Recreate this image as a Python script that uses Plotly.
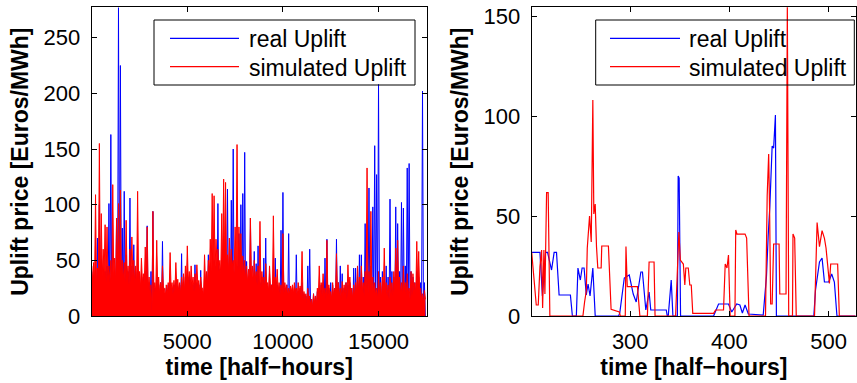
import numpy as np
import plotly.graph_objects as go

# ---------------- left panel: whole year, per 100 half-hour block (peak, trough) ----------------
bin_width = 100
red_hi = [45, 48, 109, 43, 155, 92, 60, 82, 80, 45,
          50, 118, 52, 88, 101, 113, 50, 48, 86, 45,
          60, 71, 50, 45, 112, 40, 52, 38, 62, 80,
          35, 28, 94, 30, 68, 35, 30, 45, 25, 28,
          30, 57, 30, 32, 48, 33, 30, 35, 38, 45,
          63, 40, 45, 35, 38, 46, 32, 35, 25, 55,
          40, 50, 69, 110, 108, 69, 60, 50, 92, 123,
          120, 55, 70, 60, 50, 80, 154, 80, 74, 54,
          50, 45, 42, 88, 45, 50, 40, 45, 85, 40,
          35, 47, 30, 45, 28, 90, 35, 42, 30, 28,
          74, 30, 28, 25, 27, 28, 30, 25, 30, 27,
          58, 22, 20, 25, 18, 15, 20, 18, 25, 45,
          30, 38, 25, 68, 28, 22, 30, 25, 56, 30,
          25, 31, 28, 30, 46, 35, 25, 28, 30, 45,
          35, 45, 30, 40, 133, 40, 94, 35, 30, 25,
          40, 30, 35, 61, 30, 28, 35, 30, 40, 61,
          68, 35, 30, 45, 30, 38, 25, 40, 38, 30,
          67, 58, 25, 20, 23]
red_lo = [30, 32, 28, 25, 30, 35, 38, 30, 35, 30,
          32, 35, 30, 38, 30, 35, 32, 30, 35, 28,
          30, 35, 28, 30, 32, 25, 30, 28, 30, 25,
          22, 3, 20, 22, 25, 20, 22, 25, 18, 20,
          22, 25, 20, 22, 25, 22, 20, 25, 22, 28,
          30, 25, 28, 22, 25, 28, 20, 25, 18, 30,
          28, 35, 40, 45, 42, 48, 40, 38, 45, 50,
          45, 40, 42, 45, 38, 45, 40, 42, 38, 35,
          32, 30, 28, 35, 30, 32, 28, 30, 25, 28,
          25, 28, 22, 25, 20, 28, 25, 22, 20, 22,
          20, 22, 18, 20, 22, 20, 22, 18, 20, 18,
          15, 15, 12, 15, 10, 8, 12, 10, 15, 18,
          18, 20, 15, 18, 20, 15, 18, 20, 22, 18,
          15, 18, 20, 15, 22, 20, 15, 18, 20, 22,
          20, 22, 18, 25, 20, 25, 22, 20, 18, 15,
          18, 15, 20, 22, 18, 15, 20, 18, 22, 25,
          22, 20, 18, 22, 18, 20, 15, 18, 22, 20,
          25, 22, 15, 12, 15]
blue_hi = [40, 35, 32, 70, 100, 30, 35, 40, 45, 101,
           163, 40, 35, 88, 277, 225, 79, 112, 55, 40,
           106, 45, 64, 40, 35, 38, 30, 35, 40, 81,
           30, 40, 94, 25, 30, 28, 30, 67, 20, 25,
           28, 30, 25, 28, 30, 25, 28, 56, 30, 35,
           30, 35, 30, 28, 46, 30, 28, 41, 22, 35,
           38, 55, 45, 40, 50, 45, 101, 40, 45, 50,
           45, 114, 40, 104, 150, 40, 45, 74, 100, 110,
           147, 49, 35, 88, 35, 58, 47, 63, 30, 35,
           52, 70, 25, 38, 28, 30, 52, 28, 25, 77,
           111, 25, 28, 74, 22, 25, 20, 55, 22, 25,
           30, 20, 18, 45, 60, 15, 20, 18, 22, 25,
           28, 30, 52, 69, 25, 30, 28, 25, 69, 30,
           45, 38, 25, 30, 28, 30, 25, 43, 43, 35,
           55, 55, 35, 83, 40, 115, 45, 98, 153, 127,
           208, 35, 40, 30, 45, 35, 105, 40, 35, 98,
           83, 40, 102, 97, 45, 133, 137, 40, 35, 30,
           40, 35, 30, 202, 30]
blue_lo = [2, 6, 0, 0, 0, 3, 1, 8, 4, 0,
           5, 2, 7, 1, 0, 3, 6, 2, 4, 9,
           1, 3, 5, 0, 2, 6, 1, 4, 3, 0,
           2, 0, 4, 1, 6, 3, 0, 5, 2, 1,
           4, 0, 3, 6, 1, 2, 5, 0, 3, 4,
           1, 6, 2, 0, 4, 3, 5, 1, 0, 2,
           4, 1, 6, 3, 0, 5, 2, 4, 1, 3,
           0, 6, 2, 5, 1, 3, 4, 0, 2, 6,
           1, 3, 5, 0, 2, 4, 1, 6, 3, 0,
           2, 5, 1, 3, 0, 4, 2, 1, 5, 0,
           3, 1, 4, 0, 2, 5, 1, 3, 0, 4,
           2, 0, 3, 1, 5, 2, 0, 4, 1, 3,
           0, 2, 5, 1, 3, 0, 4, 2, 1, 5,
           3, 0, 2, 4, 1, 3, 0, 5, 2, 1,
           4, 0, 3, 1, 2, 5, 0, 3, 1, 4,
           2, 0, 5, 1, 3, 2, 4, 0, 1, 3,
           5, 2, 0, 4, 1, 3, 0, 2, 5, 1,
           3, 0, 4, 2, 0]

# ---------------- right panel: zoom on the first half-hours ----------------
real_x = [200.7, 209, 211.5, 214.7, 216.7, 220.7, 223.3, 225.7, 228.3, 239.7, 241.7, 245.7,
          247.3, 249.7, 251.5, 253.5, 255.7, 257.5, 259.5, 262.3, 264.7, 288.3, 289.5, 294,
          299, 303, 306, 310.7, 312.3, 315.7, 319, 320.7, 336.3, 337.3, 338.3, 341.3, 343,
          347.5, 348.3, 349.3, 350.7, 384, 389, 399, 402.3, 407.3, 410.5, 413, 415.7, 419,
          434, 437.3, 439, 440.7, 443, 444.5, 446.3, 447.3, 485, 486.7, 490.7, 493.3, 495.7,
          500, 503, 505.7, 508.3, 527]
real_y = [31.8, 31.8, 10, 31.8, 31.8, 23, 31.8, 31.8, 10.5, 10.5, 0, 0,
          24, 18, 24, 24, 10.5, 16, 10, 24, 0, 0, 1.7, 19,
          20.5, 11, 7, 22, 22, 3, 12, 3, 3, 0, 0, 18, 0,
          0, 70, 69, 0, 0, 6, 6, 2, 6, 5.5, 1.5, 5.5, 1,
          0.5, 20, 40, 55, 85, 84, 100.5, 0, 0, 13, 27, 29, 17,
          17, 21, 17, 0, 0]
sim_x = [200.7, 203.5, 205.3, 207.3, 209, 210.7, 211.7, 213, 214, 215.7, 217.3, 219,
         252.3, 254, 255.7, 256.7, 259, 260.7, 262.3, 263.3, 264.7, 266, 267.3, 270.7,
         271.3, 278, 280.7, 289, 290, 295, 295.7, 297, 307.3, 309.7, 317.3, 319, 324, 325,
         345.7, 347.3, 349, 350.5, 353.5, 355, 356, 358.5, 360, 361.5, 363, 384, 386, 394,
         395.7, 397.5, 399, 400.7, 405.5, 406.3, 407.5, 415.7, 417.3, 419.7, 436.3, 438,
         439.5, 440.5, 441.5, 443, 444.5, 450, 450.7, 457, 458.3, 459.7, 463.5, 464, 465.7,
         467.3, 485.7, 488.3, 490.7, 493.3, 495.7, 497.3, 500.7, 502, 509, 510.7, 527]
sim_y = [31.8, 17, 5.5, 5.5, 24.7, 33, 4, 33, 11, 61.7, 61.7, 0,
         0, 7, 12.5, 34, 50, 37, 108, 51, 56, 34.7, 24, 24,
         35, 35, 3.3, 2, 0, 0, 34.7, 14.7, 14.7, 0, 0, 27, 27, 0,
         0, 20, 42, 28, 26, 15.5, 24, 24, 15.5, 15.5, 1.3, 1.3, 3, 3,
         26, 24, 30.5, 0, 0, 43, 41, 41, 39, 0, 0, 60,
         81, 50, 6, 6, 36, 36, 11, 11, 155, 0, 0, 41, 39,
         0, 0, 46.7, 34.7, 42.7, 38.8, 34, 16.3, 26, 26, 0, 0]

legend_names = ["real Uplift", "simulated Uplift"]
x_ticks_left = [5000, 10000, 15000]
y_ticks_left = [0, 50, 100, 150, 200, 250]
x_ticks_right = [300, 400, 500]
y_ticks_right = [0, 50, 100, 150]

# interleave block peaks and troughs along the time axis
n = len(red_hi)
t_hi = np.arange(n) * bin_width + 1
t_lo = t_hi + bin_width // 2
t_left = np.column_stack([t_hi, t_lo]).ravel()
red_left = np.column_stack([red_hi, red_lo]).ravel()
blue_left = np.column_stack([blue_hi, blue_lo]).ravel()

BLUE = "rgb(0,0,255)"
RED = "rgb(255,0,0)"
FONT = "Liberation Sans, Arial, Helvetica, sans-serif"
W, H = 857, 383

fig = go.Figure()
fig.add_trace(go.Scatter(x=t_left, y=blue_left, mode="lines", name=legend_names[0],
                         line=dict(color=BLUE, width=1), xaxis="x", yaxis="y", showlegend=False))
fig.add_trace(go.Scatter(x=t_left, y=red_left, mode="lines", name=legend_names[1],
                         line=dict(color=RED, width=1), fill="tozeroy", fillcolor=RED,
                         xaxis="x", yaxis="y", showlegend=False))
fig.add_trace(go.Scatter(x=real_x, y=real_y, mode="lines", name=legend_names[0],
                         line=dict(color=BLUE, width=1.2), xaxis="x2", yaxis="y2", showlegend=False))
fig.add_trace(go.Scatter(x=sim_x, y=sim_y, mode="lines", name=legend_names[1],
                         line=dict(color=RED, width=1.2), xaxis="x2", yaxis="y2", showlegend=False))

ydom = [1 - 316 / H, 1 - 7.3 / H]
common = dict(showline=True, linecolor="black", linewidth=1, mirror="ticks",
              ticks="inside", ticklen=5, tickcolor="black", showgrid=False, zeroline=False,
              automargin=False, ticklabelstandoff=6,
              tickfont=dict(family=FONT, size=22, color="black"))
title_font = dict(family=FONT, size=23, color="black")

fig.update_layout(
    width=W, height=H, margin=dict(l=0, r=0, t=0, b=0, pad=0),
    paper_bgcolor="white", plot_bgcolor="white", showlegend=False,
    xaxis=dict(domain=[91.7 / W, 426.7 / W], anchor="y", range=[0, 17520],
               tickvals=x_ticks_left, ticktext=[str(v) for v in x_ticks_left],
               title=dict(text="<b>time [half\u2212hours]</b>", font=title_font, standoff=4), **common),
    yaxis=dict(domain=ydom, anchor="x", range=[0, 277.3],
               tickvals=y_ticks_left, ticktext=[str(v) for v in y_ticks_left],
               title=dict(text="<b>Uplift price [Euros/MWh]</b>", font=title_font, standoff=8), **common),
    xaxis2=dict(domain=[531.7 / W, 856 / W], anchor="y2", range=[200.7, 527.5],
                tickvals=x_ticks_right, ticktext=[str(v) for v in x_ticks_right],
                title=dict(text="<b>time [half\u2212hours]</b>", font=title_font, standoff=4), **common),
    yaxis2=dict(domain=ydom, anchor="x2", range=[0, 154.4],
                tickvals=y_ticks_right, ticktext=[str(v) for v in y_ticks_right],
                title=dict(text="<b>Uplift price [Euros/MWh]</b>", font=title_font, standoff=8), **common),
)

# legend boxes (MATLAB style: long line samples)
def px(x):
    return x / W

def py(y):
    return 1 - y / H

legend_boxes = [
    dict(box=(154, 415), line=(170, 239), text_x=247),
    dict(box=(595.7, 854.3), line=(610, 680), text_x=687.3),
]
row_y = [38.3, 66.7]
colors = [BLUE, RED]
for lb in legend_boxes:
    fig.add_shape(type="rect", xref="paper", yref="paper",
                  x0=px(lb["box"][0]), x1=px(lb["box"][1]), y0=py(85), y1=py(20),
                  line=dict(color="black", width=1), fillcolor="rgba(0,0,0,0)", layer="above")
    for name, col, yy in zip(legend_names, colors, row_y):
        fig.add_shape(type="line", xref="paper", yref="paper",
                      x0=px(lb["line"][0]), x1=px(lb["line"][1]), y0=py(yy), y1=py(yy),
                      line=dict(color=col, width=1.2), layer="above")
        fig.add_annotation(xref="paper", yref="paper", x=px(lb["text_x"]), y=py(yy + 1),
                           xanchor="left", yanchor="middle", text=name, showarrow=False,
                           font=dict(family=FONT, size=23, color="black"))

fig.write_html("out.html", config={"displayModeBar": False},
               post_script="document.body.style.margin='0';document.body.style.overflow='hidden';")
